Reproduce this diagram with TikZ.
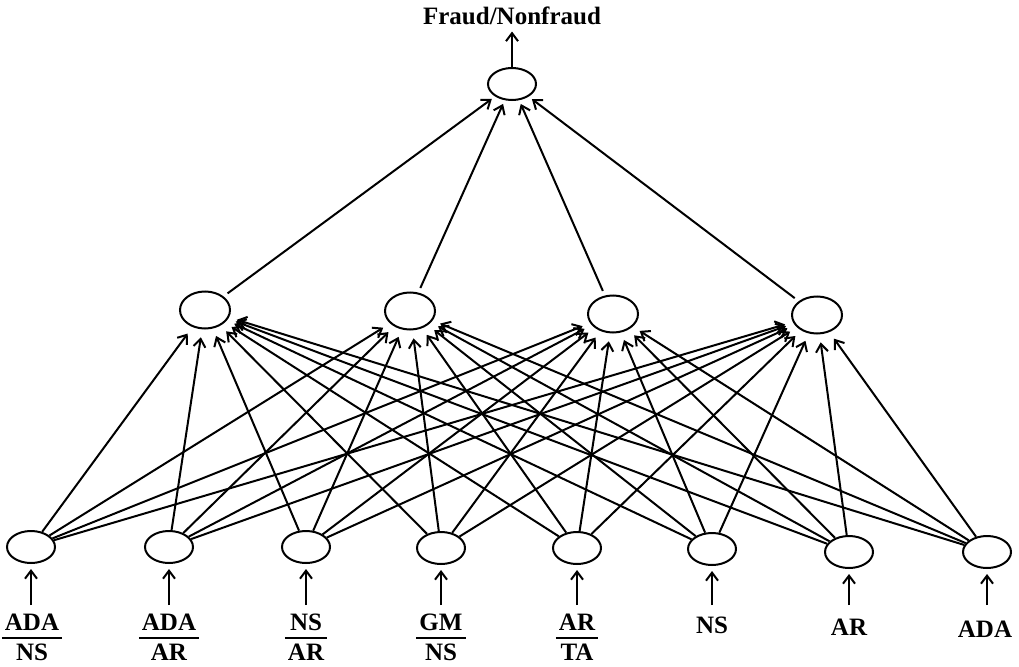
\documentclass[tikz,border=0pt]{standalone}
\usepackage{fontspec}
\setmainfont{Liberation Serif}
\usetikzlibrary{shapes.geometric,arrows.meta}

% ratio label: bold numerator over bold denominator, baseline at the numerator
\newcommand\ratio[2]{{\setlength\arrayrulewidth{2pt}%
  \begin{tabular}[t]{@{\hspace{3pt}}c@{\hspace{3pt}}}#1\\[-1.4pt]\hline
  \rule{0pt}{21pt}#2\end{tabular}}}

\tikzset{
  unit/.style={ellipse, draw, line width=2pt, minimum width=48pt,
    minimum height=32pt, inner sep=0pt},
  hunit/.style={unit, minimum width=50pt, minimum height=37pt},
  link/.style={line width=2pt,
    -{Straight Barb[length=8pt,width=12pt,line width=2pt]}},
  inlabel/.style={font=\fontsize{25}{28}\selectfont\bfseries, inner sep=1pt, anchor=base},
  outlabel/.style={font=\fontsize{25}{28}\selectfont\bfseries, inner sep=1pt, anchor=base},
}

\begin{document}
\begin{tikzpicture}[x=1pt, y=-1pt]
  \useasboundingbox (0,0) rectangle (1019,666);

  % output unit
  \node[unit] (o) at (512,84) {};
  \node[outlabel] (res) at (512,25) {Fraud/Nonfraud};
  \draw[link, shorten >=5pt] (o) -- (res);

  % hidden layer
  \node[hunit] (h1) at (205,310) {};
  \node[hunit] (h2) at (410,311) {};
  \node[hunit] (h3) at (613,314) {};
  \node[hunit] (h4) at (817,315) {};

  % input layer
  \node[unit] (i1) at (31,547) {};
  \node[unit] (i2) at (169,547) {};
  \node[unit] (i3) at (306,547) {};
  \node[unit] (i4) at (441,548) {};
  \node[unit] (i5) at (577,548) {};
  \node[unit] (i6) at (712,549) {};
  \node[unit] (i7) at (849,552) {};
  \node[unit] (i8) at (987,552) {};

  % input variables
  \node[inlabel] (v1) at (32,630) {\ratio{ADA}{NS}};
  \node[inlabel] (v2) at (169,630) {\ratio{ADA}{AR}};
  \node[inlabel] (v3) at (306,630) {\ratio{NS}{AR}};
  \node[inlabel] (v4) at (441,630) {\ratio{GM}{NS}};
  \node[inlabel] (v5) at (577,630) {\ratio{AR}{TA}};
  \node[inlabel] (v6) at (712,633) {NS};
  \node[inlabel] (v7) at (849,635) {AR};
  \node[inlabel] (v8) at (985,637) {ADA};

  % feed arrows into the input units
  \foreach \k/\x in {1/31,2/169,3/306,4/441,5/577,6/712,7/849,8/987}{
    \coordinate (f\k) at (\x,605);
    \draw[link, shorten >=5pt] (f\k) -- (i\k);
  }

  % input -> hidden connections
  \foreach \i in {1,...,8}{
    \foreach \j in {1,...,4}{
      \draw[link, shorten >=8pt] (i\i) -- (h\j);
    }
  }

  % hidden -> output connections
  \foreach \j in {1,...,4}{
    \draw[link, shorten <=5pt, shorten >=4pt] (h\j) -- (o);
  }
\end{tikzpicture}
\end{document}
